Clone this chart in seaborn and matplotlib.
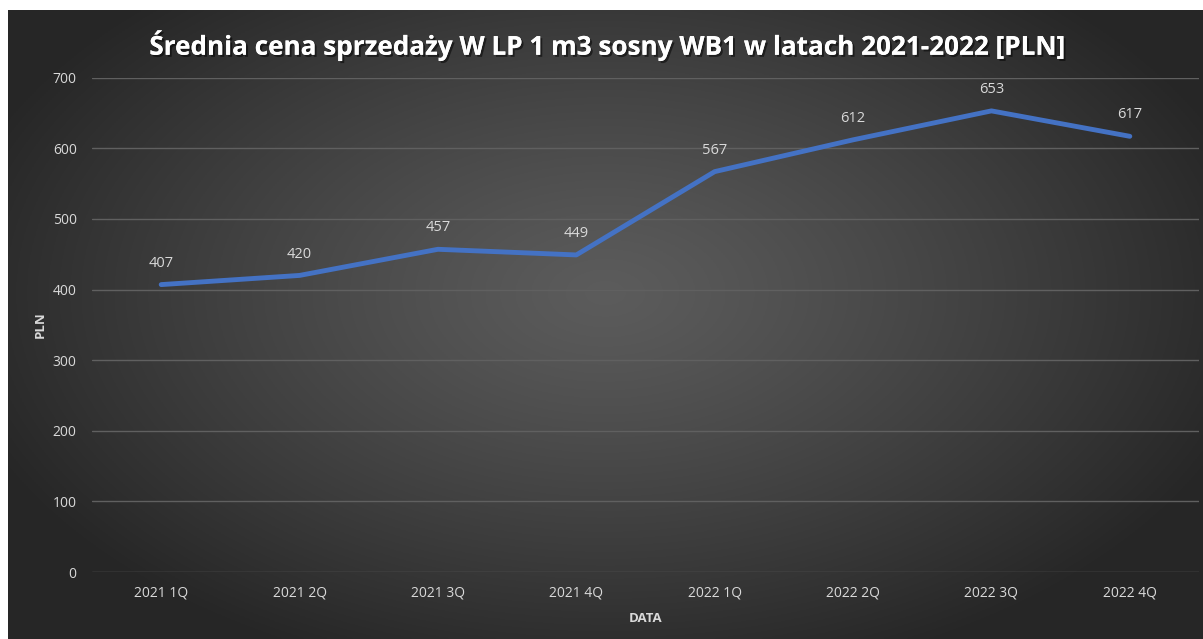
import numpy as np
import pandas as pd
import matplotlib
matplotlib.use("Agg")
import matplotlib.pyplot as plt
import matplotlib.patheffects as pe
import seaborn as sns

quarters = ["2021 1Q", "2021 2Q", "2021 3Q", "2021 4Q",
            "2022 1Q", "2022 2Q", "2022 3Q", "2022 4Q"]
prices = [407, 420, 457, 449, 567, 612, 653, 617]
y_ticks = [0, 100, 200, 300, 400, 500, 600, 700]

df = pd.DataFrame({"kwartal": quarters, "cena": prices})

sns.set_theme(style="dark")
plt.rcParams["font.family"] = ["Open Sans", "DejaVu Sans"]

W, H = 1203, 639
fig = plt.figure(figsize=(W / 100, H / 100), dpi=100)
fig.patch.set_facecolor("white")

# radial gradient background of the chart area
bg = fig.add_axes([8 / W, 0, 1 - 8 / W, 1 - 10 / H])
yy, xx = np.mgrid[0:1:300j, 0:1:600j]
r = np.sqrt(((xx - 0.5) / 0.75) ** 2 + ((yy - 0.45) / 0.85) ** 2)
r = np.clip(r / 0.75, 0, 1)
shade = 0.36 - (0.36 - 0.15) * r ** 1.2
img = np.dstack([shade, shade, shade])
bg.imshow(img, aspect="auto", extent=[0, 1, 0, 1], origin="upper")
bg.set_axis_off()

ax = fig.add_axes([92 / W, 1 - 572 / H, (1199 - 92) / W, (572 - 77.7) / H])
ax.patch.set_alpha(0)

sns.lineplot(data=df, x="kwartal", y="cena", ax=ax, color="#4472C4",
             linewidth=3.5, sort=False, solid_capstyle="round",
             solid_joinstyle="round")

for i, v in enumerate(prices):
    ax.annotate(str(v), (i, v), xytext=(0, 10), textcoords="offset points",
                ha="center", va="bottom", color="#d9d9d9", fontsize=10.5)

ax.set_xlim(-0.5, len(quarters) - 0.5)
ax.set_ylim(0, 700)
ax.set_yticks(y_ticks)
ax.grid(axis="y", color="#606060", linewidth=1)
ax.grid(axis="x", visible=False)
for s in ax.spines.values():
    s.set_visible(False)
ax.tick_params(axis="both", colors="#d9d9d9", labelsize=10, length=0)
ax.tick_params(axis="x", pad=10)
ax.tick_params(axis="y", pad=11)

ax.set_xlabel("DATA", color="#d9d9d9", fontsize=9.5, fontweight="bold", labelpad=8)
ax.set_ylabel("PLN", color="#d9d9d9", fontsize=9.5, fontweight="bold", labelpad=4)

fig.text(0.505, 1 - 45 / H, "Średnia cena sprzedaży W LP 1 m3 sosny WB1 w latach 2021-2022 [PLN]",
         ha="center", va="center", color="white", fontsize=18.8, fontweight="bold",
         path_effects=[pe.withSimplePatchShadow(offset=(1.5, -1.5), shadow_rgbFace="black", alpha=0.5), pe.Normal()])

fig.savefig("out.png", dpi=100)
